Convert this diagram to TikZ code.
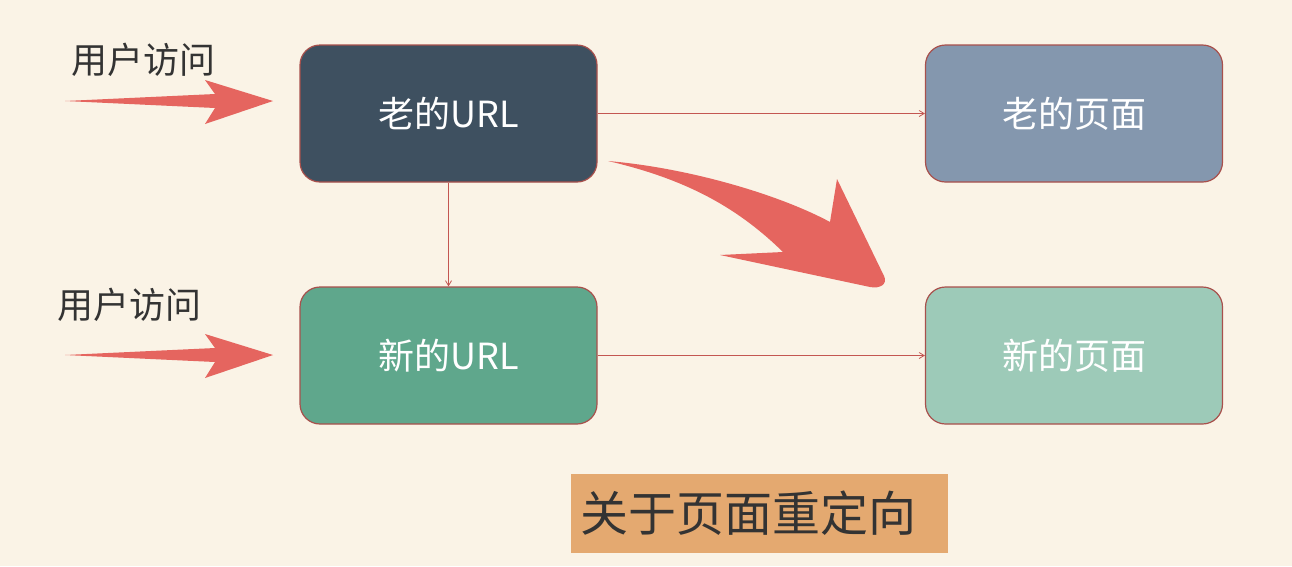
\documentclass[tikz,border=0pt]{standalone}
\usepackage{fontspec}
\setmainfont{Noto Sans CJK SC}
\usetikzlibrary{arrows.meta}
\definecolor{bg}{HTML}{FAF3E6}
\definecolor{edge}{HTML}{A8504C}
\definecolor{redarrow}{HTML}{E5655F}
\definecolor{oldurl}{HTML}{3E5060}
\definecolor{oldpage}{HTML}{8497AE}
\definecolor{newurl}{HTML}{5FA78C}
\definecolor{newpage}{HTML}{9DCAB8}
\definecolor{titlebg}{HTML}{E4A970}
\definecolor{darktext}{HTML}{333333}
\begin{document}
\begin{tikzpicture}[x=1pt,y=-1pt,
  box/.style={draw=edge,line width=1.2pt,rounded corners=20pt,minimum width=297pt,minimum height=137pt,inner sep=0pt,text=white,font=\fontsize{36}{38}\selectfont},
  thin/.style={draw=redarrow!85!black,line width=0.8pt,-{Straight Barb[length=5pt,width=6pt]}},
  label/.style={text=darktext,font=\fontsize{36}{38}\selectfont,inner sep=0pt},
  bigarrow/.style={fill=redarrow,draw=none}]
\useasboundingbox[fill=bg] (0,0) rectangle (1292,566);
\node[box,fill=oldurl] (ou) at (448.5,113.5) {老的URL};
\node[box,fill=oldpage] (op) at (1074,113.5) {老的页面};
\node[box,fill=newurl] (nu) at (448.5,355.5) {新的URL};
\node[box,fill=newpage] (np) at (1074,355.5) {新的页面};
\node[fill=titlebg,minimum width=377pt,minimum height=79pt,inner sep=0pt] (title) at (759.5,513.5) {};
\node[anchor=west,text=darktext,font=\fontsize{48}{50}\selectfont,inner sep=0pt] (titletext) at (580,513) {关于页面重定向};
\node[label] (u1) at (143,60) {用户访问};
\node[label] (u2) at (129,305) {用户访问};
\draw[thin] (ou.east) -- (op.west);
\draw[thin] (nu.east) -- (np.west);
\draw[thin] (ou.south) -- (nu.north);
% left big arrows
\coordinate (a1) at (65,101);
\coordinate (a2) at (65,355);
\fill[bigarrow] (a1) -- (215,94) -- (205,80) -- (273,101) -- (205,124) -- (215,108) -- cycle;
\fill[bigarrow] (a2) -- (215,348) -- (205,334) -- (273,355) -- (205,378) -- (215,362) -- cycle;
% curved big arrow
\coordinate (ct) at (608,161);
\fill[bigarrow] (ct) .. controls (690,168) and (780,195) .. (830,222)
  -- (837,179) -- (884,276) .. controls (888,284) and (880,289) .. (870,287)
  -- (720,255) -- (783,252)
  .. controls (740,210) and (690,180) .. (ct) -- cycle;
\end{tikzpicture}
\end{document}
